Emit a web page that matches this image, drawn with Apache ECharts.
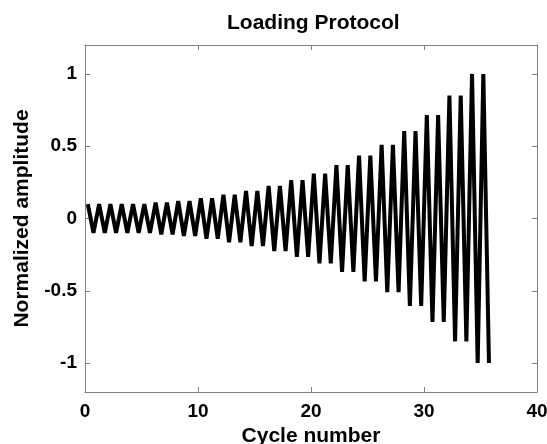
<!DOCTYPE html>
<html lang="en">
<head>
    <meta charset="UTF-8">
    <title>Loading Protocol</title>
    <script src="https://cdn.jsdelivr.net/npm/echarts@6.0.0/dist/echarts.min.js"></script>
    <style>
        html, body {
            margin: 0;
            padding: 0;
            background: #fff;
        }
        #chart {
            width: 547px;
            height: 444px;
        }
    </style>
</head>
<body>
    <div id="chart"></div>

    <script>
        // cycle positions of each peak / valley
        const cycleX = [
            0.25, 0.75, 1.25, 1.75, 2.25, 2.75, 3.25, 3.75, 4.25, 4.75, 5.25, 5.75,
            6.25, 6.75, 7.25, 7.75, 8.25, 8.75, 9.25, 9.75, 10.25, 10.75, 11.25, 11.75,
            12.25, 12.75, 13.25, 13.75, 14.25, 14.75, 15.25, 15.75, 16.25, 16.75, 17.25, 17.75,
            18.25, 18.75, 19.25, 19.75, 20.25, 20.75, 21.25, 21.75, 22.25, 22.75, 23.25, 23.75,
            24.25, 24.75, 25.25, 25.75, 26.25, 26.75, 27.25, 27.75, 28.25, 28.75, 29.25, 29.75,
            30.25, 30.75, 31.25, 31.75, 32.25, 32.75, 33.25, 33.75, 34.25, 34.75, 35.25, 35.75
        ];
        // normalized amplitude at each of those points
        const amplitude = [
            0.1, -0.1, 0.1, -0.1, 0.1, -0.1, 0.1, -0.1, 0.1, -0.1, 0.1, -0.1,
            0.11, -0.11, 0.11, -0.11, 0.12, -0.12, 0.12, -0.12, 0.14, -0.14, 0.14, -0.14,
            0.165, -0.165, 0.165, -0.165, 0.19, -0.19, 0.19, -0.19, 0.225, -0.225, 0.225, -0.225,
            0.265, -0.265, 0.265, -0.265, 0.31, -0.31, 0.31, -0.31, 0.37, -0.37, 0.37, -0.37,
            0.435, -0.435, 0.435, -0.435, 0.51, -0.51, 0.51, -0.51, 0.605, -0.605, 0.605, -0.605,
            0.715, -0.715, 0.715, -0.715, 0.85, -0.85, 0.85, -0.85, 1.0, -1.0, 1.0, -1.0
        ];
        const yTicks = [-1, -0.5, 0, 0.5, 1];

        const points = cycleX.map((x, i) => [x, amplitude[i]]);

        const font = 'Liberation Sans, Arial, sans-serif';
        const axisGrey = '#808080';

        const chart = echarts.init(document.getElementById('chart'));

        const xCommon = {
            type: 'value',
            min: 0,
            max: 40,
            interval: 10,
            axisLine: { show: true, onZero: false, lineStyle: { color: axisGrey, width: 1 } },
            axisTick: { show: true, inside: true, length: 5, lineStyle: { color: axisGrey } },
            splitLine: { show: false }
        };
        const yCommon = {
            type: 'value',
            min: -1.2,
            max: 1.2,
            axisLine: { show: true, onZero: false, lineStyle: { color: axisGrey, width: 1 } },
            axisTick: { show: true, inside: true, length: 5, customValues: yTicks, lineStyle: { color: axisGrey } },
            splitLine: { show: false }
        };

        chart.setOption({
            animation: false,
            title: {
                text: 'Loading Protocol',
                left: 222,
                top: 8,
                textStyle: { fontFamily: font, fontWeight: 'bold', fontSize: 21, color: '#000' }
            },
            grid: { left: 85, right: 10, top: 45, bottom: 52, outerBoundsMode: 'none' },
            xAxis: [
                Object.assign({}, xCommon, {
                    position: 'bottom',
                    name: 'Cycle number',
                    nameLocation: 'middle',
                    nameGap: 34,
                    nameTextStyle: { fontFamily: font, fontWeight: 'bold', fontSize: 21, color: '#000' },
                    axisLabel: { margin: 10, fontFamily: font, fontWeight: 'bold', fontSize: 19, color: '#000' }
                }),
                Object.assign({}, xCommon, {
                    position: 'top',
                    axisLabel: { show: false }
                })
            ],
            yAxis: [
                Object.assign({}, yCommon, {
                    position: 'left',
                    name: 'Normalized amplitude',
                    nameLocation: 'middle',
                    nameGap: 52,
                    nameTextStyle: { fontFamily: font, fontWeight: 'bold', fontSize: 21, color: '#000' },
                    axisLabel: {
                        margin: 8,
                        customValues: yTicks,
                        fontFamily: font, fontWeight: 'bold', fontSize: 19, color: '#000'
                    }
                }),
                Object.assign({}, yCommon, {
                    position: 'right',
                    axisLabel: { show: false }
                })
            ],
            series: [
                {
                    type: 'line',
                    data: points,
                    showSymbol: false,
                    symbol: 'none',
                    lineStyle: { color: '#000', width: 4, join: 'bevel' }
                }
            ]
        });
    </script>
</body>
</html>
